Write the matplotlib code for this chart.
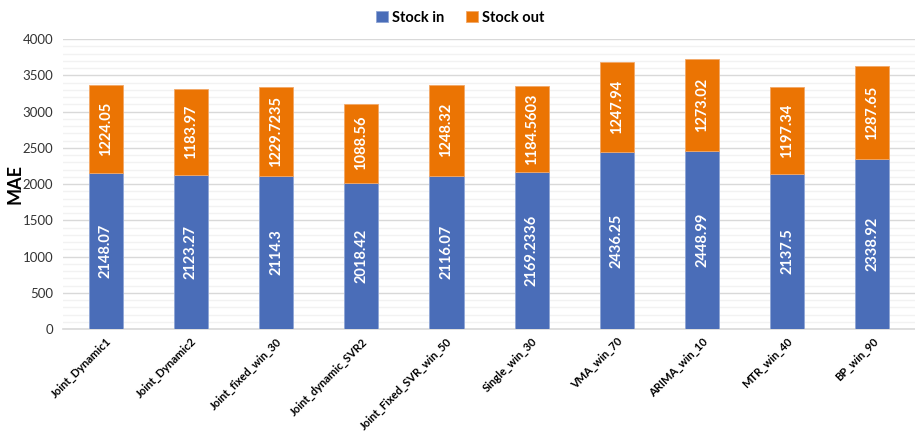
import matplotlib
matplotlib.use("Agg")
import matplotlib.pyplot as plt
from matplotlib.ticker import MultipleLocator
import numpy as np

models = ["Joint_Dynamic1", "Joint_Dynamic2", "Joint_fixed_win_30", "Joint_dynamic_SVR2",
          "Joint_Fixed_SVR_win_50", "Single_win_30", "VMA_win_70", "ARIMA_win_10",
          "MTR_win_40", "BP_win_90"]
stock_in = [2148.07, 2123.27, 2114.3, 2018.42, 2116.07, 2169.2336, 2436.25, 2448.99, 2137.5, 2338.92]
stock_out = [1224.05, 1183.97, 1229.7235, 1088.56, 1248.32, 1184.5603, 1247.94, 1273.02, 1197.34, 1287.65]
in_labels = ["2148.07", "2123.27", "2114.3", "2018.42", "2116.07", "2169.2336", "2436.25", "2448.99", "2137.5", "2338.92"]
out_labels = ["1224.05", "1183.97", "1229.7235", "1088.56", "1248.32", "1184.5603", "1247.94", "1273.02", "1197.34", "1287.65"]

BLUE = "#4A6DB8"
ORANGE = "#EB7403"
FONT = "Lato"

fig = plt.figure(figsize=(9.15, 4.32), dpi=100)
ax = fig.add_axes([0.069, 0.2384, 0.931, 0.6713])

x = np.arange(len(models))
w = 0.4
b1 = ax.bar(x, stock_in, w, color=BLUE, edgecolor="#8FA6D6", linewidth=0.6, label="Stock in", zorder=3)
b2 = ax.bar(x, stock_out, w, bottom=stock_in, color=ORANGE, edgecolor="#F2A868", linewidth=0.6,
            label="Stock out", zorder=3)

for xi, v, lab in zip(x, stock_in, in_labels):
    ax.text(xi, v / 2, lab, rotation=90, ha="center", va="center", color="white",
            fontsize=10.5, fontweight="bold", family=FONT, zorder=4)
for xi, b, v, lab in zip(x, stock_in, stock_out, out_labels):
    ax.text(xi, b + v / 2, lab, rotation=90, ha="center", va="center", color="white",
            fontsize=10.5, fontweight="bold", family=FONT, zorder=4)

ax.set_xlim(-0.5, len(models) - 0.5)
ax.set_ylim(0, 4000)
ax.yaxis.set_major_locator(MultipleLocator(500))
ax.yaxis.set_minor_locator(MultipleLocator(100))
ax.grid(axis="y", which="major", color="#D9D9D9", linewidth=1.0, zorder=0)
ax.grid(axis="y", which="minor", color="#F2F2F2", linewidth=1.0, zorder=0)
ax.set_axisbelow(True)

for s in ["top", "right", "left"]:
    ax.spines[s].set_visible(False)
ax.spines["bottom"].set_color("#D9D9D9")
ax.spines["bottom"].set_linewidth(1.2)

ax.tick_params(axis="both", which="both", length=0)
ax.tick_params(axis="y", pad=7)
ax.tick_params(axis="x", pad=5)
ax.set_xticks(x)
ax.set_xticklabels(models, rotation=45, ha="right", rotation_mode="anchor",
                   fontsize=8, fontweight="bold", family=FONT)
for t in ax.get_yticklabels():
    t.set_family(FONT)
    t.set_fontsize(9.5)
    t.set_color("#333333")

ax.set_ylabel("MAE", fontsize=13, fontweight="bold", family=FONT)
ax.yaxis.set_label_coords(-0.047, 0.5)

fig.legend(handles=[b1, b2], loc="upper center", bbox_to_anchor=(0.503, 1.005), ncol=2,
           frameon=False, prop={"family": FONT, "weight": "bold", "size": 10.5},
           handlelength=0.8, handleheight=0.8, handletextpad=0.3, columnspacing=1.5)

fig.savefig("out.png", dpi=100)
